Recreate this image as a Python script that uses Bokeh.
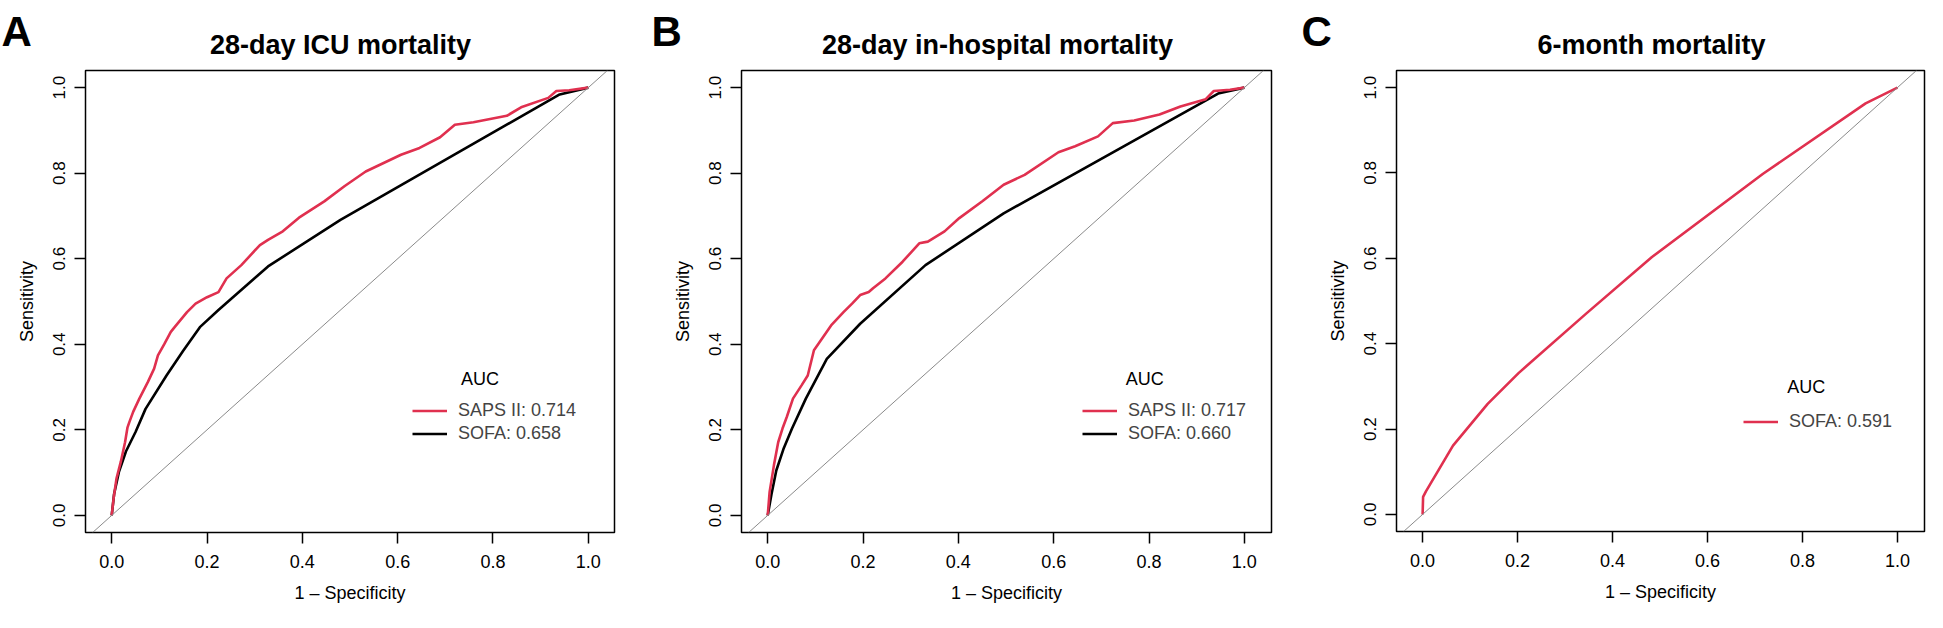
from bokeh.plotting import figure
from bokeh.models import (ColumnDataSource, FixedTicker, PrintfTickFormatter, Slope,
                          Label, Legend, LegendItem, Range1d)
from bokeh.layouts import row, column
from bokeh.embed import file_html
from bokeh.resources import INLINE

FONT = "Liberation Sans"
RED = "#E0304F"
BLACK = "#000000"
GRAY = "#8a8a8a"

# ---------------- data ----------------
tick_values = [0.0, 0.2, 0.4, 0.6, 0.8, 1.0]
x_label = "1 \u2013 Specificity"
y_label = "Sensitivity"
legend_title = "AUC"
panel_letters = ["A", "B", "C"]
panel_titles = ["28-day ICU mortality", "28-day in-hospital mortality", "6-month mortality"]

# Panel A : 28-day ICU mortality
a_saps_fpr = [0.000, 0.004, 0.010, 0.019, 0.028, 0.033, 0.037, 0.045, 0.058, 0.076, 0.089, 0.097,
              0.110, 0.124, 0.132, 0.158, 0.176, 0.200, 0.224, 0.241, 0.272, 0.311, 0.328, 0.359,
              0.393, 0.446, 0.489, 0.533, 0.607, 0.646, 0.689, 0.720, 0.759, 0.829, 0.859, 0.916,
              0.933, 0.960, 1.000]
a_saps_tpr = [0.000, 0.040, 0.086, 0.125, 0.171, 0.205, 0.218, 0.242, 0.273, 0.312, 0.343, 0.374,
              0.400, 0.429, 0.440, 0.475, 0.495, 0.510, 0.522, 0.554, 0.585, 0.632, 0.644, 0.664,
              0.696, 0.734, 0.770, 0.804, 0.843, 0.859, 0.884, 0.913, 0.919, 0.934, 0.954, 0.976,
              0.992, 0.994, 1.000]
a_sofa_fpr = [0.000, 0.005, 0.015, 0.030, 0.050, 0.071, 0.115, 0.150, 0.185, 0.224, 0.328, 0.480,
              0.940, 1.000]
a_sofa_tpr = [0.000, 0.050, 0.101, 0.150, 0.195, 0.249, 0.327, 0.385, 0.440, 0.480, 0.582, 0.691,
              0.984, 1.000]
a_legend = ["SAPS II: 0.714", "SOFA: 0.658"]

# Panel B : 28-day in-hospital mortality
b_saps_fpr = [0.000, 0.004, 0.013, 0.022, 0.031, 0.040, 0.053, 0.071, 0.084, 0.097, 0.133, 0.159,
              0.177, 0.194, 0.212, 0.221, 0.247, 0.283, 0.318, 0.336, 0.371, 0.402, 0.451, 0.495,
              0.539, 0.610, 0.645, 0.693, 0.724, 0.769, 0.822, 0.866, 0.919, 0.936, 0.970, 1.000]
b_saps_tpr = [0.000, 0.055, 0.117, 0.171, 0.203, 0.230, 0.273, 0.304, 0.327, 0.386, 0.444, 0.475,
              0.495, 0.515, 0.522, 0.531, 0.554, 0.593, 0.636, 0.640, 0.664, 0.695, 0.735, 0.773,
              0.796, 0.849, 0.863, 0.886, 0.917, 0.923, 0.937, 0.956, 0.973, 0.992, 0.995, 1.000]
b_sofa_fpr = [0.000, 0.008, 0.018, 0.033, 0.051, 0.080, 0.124, 0.194, 0.331, 0.495, 0.945, 1.000]
b_sofa_tpr = [0.000, 0.050, 0.105, 0.155, 0.203, 0.273, 0.366, 0.448, 0.585, 0.706, 0.986, 1.000]
b_legend = ["SAPS II: 0.717", "SOFA: 0.660"]

# Panel C : 6-month mortality
c_sofa_fpr = [0.000, 0.001, 0.007, 0.064, 0.137, 0.202, 0.345, 0.483, 0.717, 0.933, 1.000]
c_sofa_tpr = [0.000, 0.041, 0.054, 0.161, 0.259, 0.331, 0.471, 0.603, 0.798, 0.963, 1.000]
c_legend = ["SOFA: 0.591"]

# ---------------- layout constants (pixels on the page) ----------------
PAGE_W = 1927
HEADER_H = 62
PANEL_H = 550
title_centers_px = [348, 1005, 1659]
letter_left_px = [9, 659, 1309]
TITLE_BASELINE_PX = 52
LETTER_BASELINE_PX = 39


def make_header():
    h = figure(width=PAGE_W, height=HEADER_H, output_backend="svg", toolbar_location=None,
               x_range=Range1d(8, 8 + PAGE_W), y_range=Range1d(8 + HEADER_H, 8),
               x_axis_type=None, y_axis_type=None,
               min_border=0, min_border_left=0, min_border_right=0,
               min_border_top=0, min_border_bottom=0)
    h.outline_line_color = None
    h.xgrid.visible = False
    h.ygrid.visible = False
    h.background_fill_color = "white"
    h.border_fill_color = "white"
    for cx, lx, t, l in zip(title_centers_px, letter_left_px, panel_titles, panel_letters):
        h.add_layout(Label(x=cx, y=TITLE_BASELINE_PX, text=t, text_font=FONT,
                           text_font_size="27px", text_font_style="bold",
                           text_align="center", text_baseline="alphabetic", text_color="black"))
        h.add_layout(Label(x=lx, y=LETTER_BASELINE_PX, text=l, text_font=FONT,
                           text_font_size="42px", text_font_style="bold",
                           text_align="left", text_baseline="alphabetic", text_color="black"))
    return h


def make_panel(curves, legend_labels, lay):
    p = figure(width=lay["width"], height=PANEL_H, output_backend="svg", toolbar_location=None,
               x_range=Range1d(*lay["xr"]), y_range=Range1d(-0.04, 1.04),
               frame_width=lay["fw"], frame_height=lay["fh"],
               min_border_left=lay["bl"], min_border_right=lay["br"],
               min_border_top=lay["bt"], min_border_bottom=lay["bb"])
    p.background_fill_color = "white"
    p.border_fill_color = "white"
    p.outline_line_color = "black"
    p.outline_line_width = 1.5
    p.xgrid.visible = False
    p.ygrid.visible = False

    for ax in (p.xaxis[0], p.yaxis[0]):
        ax.ticker = FixedTicker(ticks=tick_values)
        ax.formatter = PrintfTickFormatter(format="%.1f")
        ax.axis_line_color = None
        ax.major_tick_line_color = "black"
        ax.major_tick_line_width = 1.5
        ax.major_tick_out = 11
        ax.major_tick_in = 0
        ax.minor_tick_line_color = None
        ax.major_label_text_font = FONT
        ax.major_label_text_font_size = "18px"
        ax.major_label_text_color = "black"
        ax.axis_label_text_font = FONT
        ax.axis_label_text_font_size = "18px"
        ax.axis_label_text_font_style = "normal"
        ax.axis_label_text_color = "black"
        ax.major_label_standoff = 11
        ax.axis_label_standoff = 12
    p.xaxis.axis_label = x_label
    p.yaxis.axis_label = y_label
    p.yaxis.major_label_orientation = "vertical"
    p.yaxis.major_label_text_font_size = "17px"
    p.yaxis.major_label_standoff = 9
    p.yaxis.axis_label_standoff = 14

    p.add_layout(Slope(gradient=1, y_intercept=0, line_color=GRAY, line_width=1))

    items = []
    rends = []
    for (fpr, tpr, color), lab in zip(curves, legend_labels):
        src = ColumnDataSource(dict(x=fpr, y=tpr))
        r = p.line("x", "y", source=src, line_color=color, line_width=2.6)
        items.append(LegendItem(label=lab, renderers=[r]))
        rends.append(r)
    # keep the red curve drawn above the black one
    p.renderers = [r for r in p.renderers if r not in rends] + rends[::-1]

    leg = Legend(items=items, location=lay["leg_loc"], orientation="vertical",
                 glyph_width=35, glyph_height=23, label_height=23, spacing=0,
                 padding=0, margin=0, label_standoff=11,
                 label_text_font=FONT, label_text_font_size="18px",
                 border_line_color=None, background_fill_alpha=0)
    p.add_layout(leg)

    p.add_layout(Label(x=lay["auc_xy"][0], y=lay["auc_xy"][1], text=legend_title,
                       text_font=FONT, text_font_size="18px", text_baseline="middle",
                       text_align="left", text_color="black"))
    return p


lay_a = dict(width=642, fw=529, fh=462, bl=85, br=28, bt=8, bb=80,
             xr=(-0.055, 1.055), leg_loc=(327, 87), auc_xy=(0.733, 0.318))
lay_b = dict(width=640, fw=530, fh=462, bl=99, br=11, bt=8, bb=80,
             xr=(-0.055, 1.057), leg_loc=(341, 87), auc_xy=(0.751, 0.3195))
lay_c = dict(width=645, fw=528, fh=461, bl=114, br=3, bt=7, bb=82,
             xr=(-0.055, 1.057), leg_loc=(347, 98), auc_xy=(0.768, 0.298))

pa = make_panel([(a_saps_fpr, a_saps_tpr, RED), (a_sofa_fpr, a_sofa_tpr, BLACK)], a_legend, lay_a)
pb = make_panel([(b_saps_fpr, b_saps_tpr, RED), (b_sofa_fpr, b_sofa_tpr, BLACK)], b_legend, lay_b)
pc = make_panel([(c_sofa_fpr, c_sofa_tpr, RED)], c_legend, lay_c)

layout = column(make_header(), row(pa, pb, pc, spacing=0), spacing=0)
open("out.html", "w").write(file_html(layout, INLINE))
